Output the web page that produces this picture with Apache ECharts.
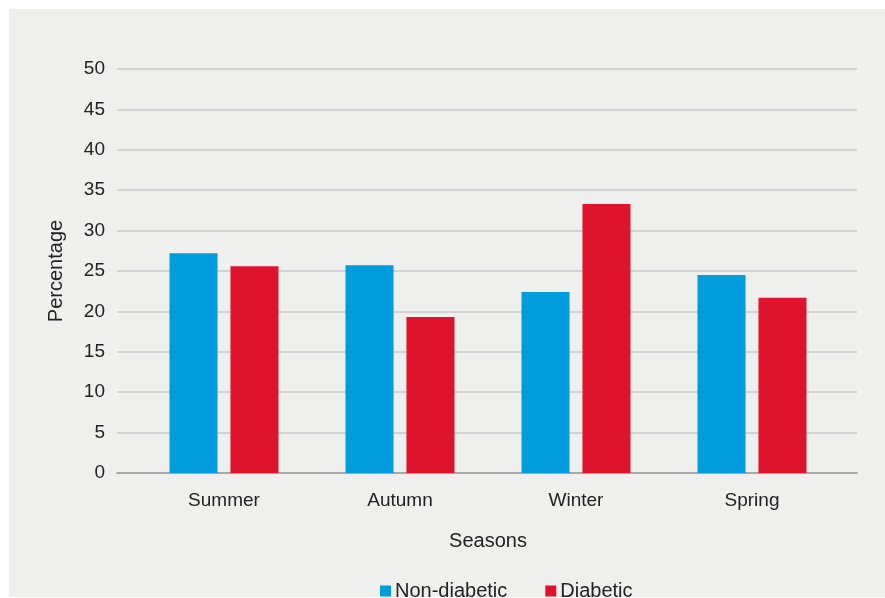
<!DOCTYPE html>
<html>
<head>
<meta charset="utf-8">
<script src="https://cdn.jsdelivr.net/npm/echarts@6/dist/echarts.min.js"></script>
<style>
  html, body { margin: 0; padding: 0; background: #ffffff; }
  #bg { position: absolute; left: 9px; top: 9px; width: 876px; height: 588px; background: #efefee; }
  #chart { position: absolute; left: 0; top: 0; width: 885px; height: 598px; }
</style>
</head>
<body>
<div id="bg"></div>
<div id="chart"></div>
<script>
const seasons = ['Summer', 'Autumn', 'Winter', 'Spring'];
const nonDiabetic = [27.2, 25.7, 22.4, 24.5];
const diabetic = [25.6, 19.3, 33.3, 21.7];
const yTicks = { min: 0, max: 50, interval: 5 };

const FONT = '"Liberation Sans", Arial, Helvetica, sans-serif';
const chart = echarts.init(document.getElementById('chart'), null, { renderer: 'canvas' });

chart.setOption({
  backgroundColor: 'transparent',
  animation: false,
  textStyle: { fontFamily: FONT },
  grid: [
    { left: 117, right: 28, top: 69, bottom: 125, containLabel: false },
    { left: 136, right: 45, top: 69, bottom: 125, containLabel: false }
  ],
  legend: {
    data: ['Non-diabetic', 'Diabetic'],
    left: 375,
    top: 576,
    icon: 'rect',
    itemWidth: 11,
    itemHeight: 11,
    itemGap: 38,
    textStyle: { fontFamily: FONT, fontSize: 20, color: '#222222', padding: [0, 0, 0, -1] }
  },
  xAxis: [
    {
      gridIndex: 0,
      type: 'category',
      data: [''],
      axisLine: { show: true, lineStyle: { color: '#9a9a9a', width: 1.5 } },
      axisTick: { show: false },
      axisLabel: { show: false },
      splitLine: { show: false }
    },
    {
      gridIndex: 1,
      type: 'category',
      data: seasons,
      axisLine: { show: false },
      axisTick: { show: false },
      axisLabel: { fontFamily: FONT, fontSize: 19, color: '#222222', margin: 18 },
      name: 'Seasons',
      nameLocation: 'middle',
      nameGap: 58,
      nameTextStyle: { fontFamily: FONT, fontSize: 20, color: '#222222' }
    }
  ],
  yAxis: [
    {
      gridIndex: 0,
      type: 'value',
      min: yTicks.min,
      max: yTicks.max,
      interval: yTicks.interval,
      axisLine: { show: false },
      axisTick: { show: false },
      axisLabel: { fontFamily: FONT, fontSize: 19, color: '#222222', margin: 12, padding: [4, 0, 0, 0] },
      splitLine: { show: true, lineStyle: { color: '#c8c8c8', width: 1.5 } },
      name: 'Percentage',
      nameLocation: 'middle',
      nameGap: 51,
      nameTextStyle: { fontFamily: FONT, fontSize: 20, color: '#222222' }
    },
    {
      gridIndex: 1,
      type: 'value',
      min: yTicks.min,
      max: yTicks.max,
      interval: yTicks.interval,
      show: false,
      splitLine: { show: false }
    }
  ],
  series: [
    {
      name: 'Non-diabetic',
      type: 'bar',
      xAxisIndex: 1,
      yAxisIndex: 1,
      data: nonDiabetic,
      barWidth: 48,
      barGap: '27%',
      itemStyle: { color: '#009cdb' }
    },
    {
      name: 'Diabetic',
      type: 'bar',
      xAxisIndex: 1,
      yAxisIndex: 1,
      data: diabetic,
      barWidth: 48,
      barGap: '27%',
      itemStyle: { color: '#df132b' }
    }
  ]
});
</script>
</body>
</html>
